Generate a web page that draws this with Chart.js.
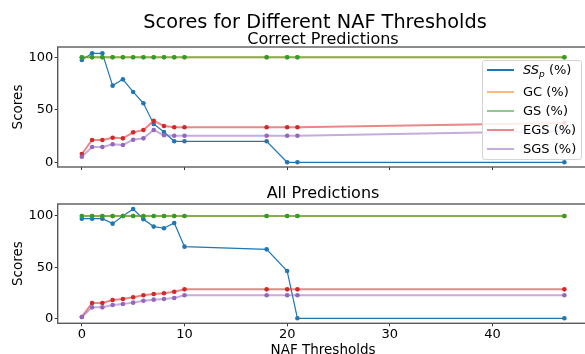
<!DOCTYPE html>
<html>
<head>
  <title>Scores for Different NAF Thresholds</title>
  <script src="https://cdn.jsdelivr.net/npm/chart.js"></script>
  <style>
    body { margin: 0; width: 585px; height: 354px; overflow: hidden; background: #fff; position: relative;
           font-family: "DejaVu Sans", sans-serif; color: #000; }
    .caixa { position: absolute; left: 0; }
    .titulo { position: absolute; white-space: nowrap; transform: translateX(-50%); line-height: 1; }
    #legenda { position: absolute; left: 482px; top: 60px; width: 98px; height: 98px;
               border: 1px solid #d4d4d4; border-radius: 3px; background: rgba(255,255,255,0.85); }
    .item { position: absolute; left: 0; height: 16px; line-height: 16px; font-size: 13px; white-space: nowrap; }
    .amostra { position: absolute; left: 4px; top: 7px; width: 27px; height: 2px; }
    .texto { position: absolute; left: 40px; top: 0; }
    .texto sub { font-size: 9px; line-height: 0; vertical-align: -3px; }
  </style>
</head>
<body>
  <div class="caixa" style="top:0"><canvas id="graficoCorretas" width="600" height="180"></canvas></div>
  <div class="caixa" style="top:180px"><canvas id="graficoTodas" width="600" height="190"></canvas></div>

  <div class="titulo" style="left:315px; top:12px; font-size:19.3px">Scores for Different NAF Thresholds</div>
  <div class="titulo" style="left:323px; top:31px; font-size:16px">Correct Predictions</div>
  <div class="titulo" style="left:323px; top:185px; font-size:16px">All Predictions</div>

  <div id="legenda">
    <div class="item" style="top:1px"><span class="amostra" style="background:#1f77b4; height:1.5px"></span><span class="texto"><i>SS<sub>p</sub></i> (%)</span></div>
    <div class="item" style="top:23px"><span class="amostra" style="background:rgba(255,127,14,0.55)"></span><span class="texto">GC (%)</span></div>
    <div class="item" style="top:42px"><span class="amostra" style="background:rgba(44,160,44,0.55)"></span><span class="texto">GS (%)</span></div>
    <div class="item" style="top:61px"><span class="amostra" style="background:rgba(214,39,40,0.55)"></span><span class="texto">EGS (%)</span></div>
    <div class="item" style="top:80px"><span class="amostra" style="background:rgba(148,103,189,0.55)"></span><span class="texto">SGS (%)</span></div>
  </div>

  <script>
    // limiares NAF (eixo x)
    const limiares = [0, 1, 2, 3, 4, 5, 6, 7, 8, 9, 10, 18, 20, 21, 47];
    const marcasX = [0, 10, 20, 30, 40];
    const marcasY = [0, 50, 100];

    // Correct Predictions
    const sspCorretas = [97.4, 103.8, 103.8, 73.0, 79.0, 67.0, 56.2, 36.5, 28.9, 20.0, 20.0, 20.0, 0, 0, 0];
    const gcCorretas  = [100, 100, 100, 100, 100, 100, 100, 100, 100, 100, 100, 100, 100, 100, 100];
    const gsCorretas  = [100, 100, 100, 100, 100, 100, 100, 100, 100, 100, 100, 100, 100, 100, 100];
    const egsCorretas = [7.9, 21.2, 21.2, 23.4, 22.8, 28.5, 30.7, 39.6, 34.6, 33.3, 33.3, 33.3, 33.3, 33.3, 37.5];
    const sgsCorretas = [5.3, 14.6, 14.6, 17.1, 16.5, 21.5, 22.8, 30.7, 25.7, 25.3, 25.3, 25.3, 25.3, 25.3, 29.7];

    // All Predictions
    const sspTodas = [97.4, 97.4, 97.4, 92.5, 100, 106.8, 96.8, 89.6, 88.0, 93.2, 70.0, 67.4, 46.2, 0, 0];
    const gcTodas  = [100, 100, 100, 100, 100, 100, 100, 100, 100, 100, 100, 100, 100, 100, 100];
    const gsTodas  = [100, 100, 100, 100, 100, 100, 100, 100, 100, 100, 100, 100, 100, 100, 100];
    const egsTodas = [1.3, 15.0, 15.0, 17.9, 18.9, 20.5, 22.5, 23.8, 24.4, 26.0, 28.3, 28.3, 28.3, 28.3, 28.3];
    const sgsTodas = [1.3, 10.7, 10.7, 13.0, 14.0, 15.3, 17.2, 18.2, 18.9, 19.8, 22.5, 22.5, 22.5, 22.5, 22.5];

    const fonte = { family: 'DejaVu Sans', size: 13 };
    const fonteRotulo = { family: 'DejaVu Sans', size: 13.5 };

    function pontos(valores) {
      return limiares.map((x, i) => ({ x: x, y: valores[i] }));
    }

    function serie(valores, cor, corLinha, largura, ordem) {
      return {
        data: pontos(valores),
        borderColor: corLinha,
        borderWidth: largura,
        pointRadius: 2.3,
        pointBorderWidth: 0,
        pointBackgroundColor: cor,
        order: ordem,
      };
    }

    function conjuntos(ssp, gc, gs, egs, sgs) {
      return [
        serie(ssp, '#1f77b4', '#1f77b4', 1.2, 5),
        serie(gc, '#ff7f0e', 'rgba(255,127,14,0.55)', 2, 4),
        serie(gs, '#2ca02c', 'rgba(44,160,44,0.55)', 2, 3),
        serie(egs, '#d62728', 'rgba(214,39,40,0.55)', 2, 2),
        serie(sgs, '#9467bd', 'rgba(148,103,189,0.55)', 2, 1),
      ];
    }

    // moldura do eixo (spines)
    const moldura = {
      id: 'moldura',
      afterDatasetsDraw(chart) {
        const { ctx, chartArea: a } = chart;
        ctx.save();
        ctx.strokeStyle = '#5a5a5a';
        ctx.lineWidth = 1.4;
        ctx.strokeRect(a.left, a.top, a.right - a.left, a.bottom - a.top);
        ctx.restore();
      }
    };

    function criarGrafico(id, dados, yMin, yMax, topo, alturaX, comRotulos) {
      return new Chart(document.getElementById(id), {
        type: 'line',
        data: { datasets: dados },
        plugins: [moldura],
        options: {
          responsive: false,
          animation: false,
          layout: { padding: { top: topo, right: 11.5, left: 0, bottom: 0 } },
          plugins: { legend: { display: false }, tooltip: { enabled: false } },
          scales: {
            x: {
              type: 'linear',
              min: -2.35,
              max: 49.35,
              afterFit: (s) => { s.height = alturaX; },
              afterBuildTicks: (s) => { s.ticks = marcasX.map(v => ({ value: v })); },
              ticks: { display: comRotulos, font: fonte, color: '#000', padding: 1, maxRotation: 0 },
              grid: { drawOnChartArea: false, drawTicks: true, tickLength: 3, color: '#333' },
              border: { display: false },
              title: { display: comRotulos, text: 'NAF Thresholds', font: fonteRotulo, color: '#000',
                       padding: { top: 0, bottom: 11.5 } },
            },
            y: {
              min: yMin,
              max: yMax,
              afterFit: (s) => { s.width = 57.7; },
              afterBuildTicks: (s) => { s.ticks = marcasY.map(v => ({ value: v })); },
              ticks: { font: fonte, color: '#000', padding: 1.5 },
              grid: { drawOnChartArea: false, drawTicks: true, tickLength: 3, color: '#333' },
              border: { display: false },
              title: { display: true, text: 'Scores', font: fonteRotulo, color: '#000',
                       padding: { top: 10, bottom: 0 } },
            },
          },
        },
      });
    }

    criarGrafico('graficoCorretas',
      conjuntos(sspCorretas, gcCorretas, gsCorretas, egsCorretas, sgsCorretas),
      -4.5, 109.8, 47, 13, false);

    criarGrafico('graficoTodas',
      conjuntos(sspTodas, gcTodas, gsTodas, egsTodas, sgsTodas),
      -4.9, 111.7, 24, 46.7, true);
  </script>
</body>
</html>
